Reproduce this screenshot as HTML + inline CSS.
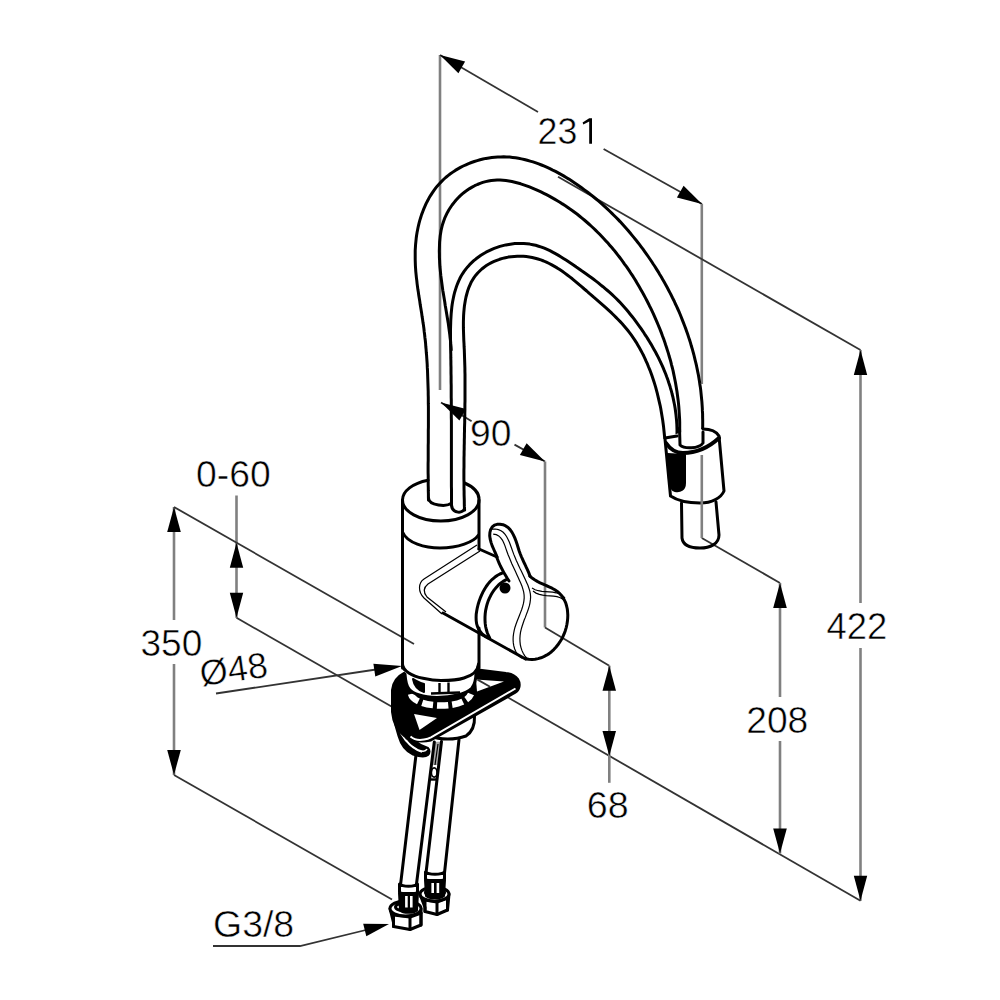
<!DOCTYPE html>
<html><head><meta charset="utf-8"><style>
html,body{margin:0;padding:0;background:#fff;overflow:hidden;}
svg{display:block;}
text{font-family:"Liberation Sans",sans-serif;font-size:36px;fill:#000;stroke:#fff;stroke-width:0.5;}
.dk{stroke:#333;stroke-width:1.8;fill:none;}
.dg{stroke:#808080;stroke-width:2.6;fill:none;}
.ar{fill:#000;stroke:none;}
.th{stroke:#000;stroke-width:3;fill:none;stroke-linecap:round;stroke-linejoin:round;}
.thw{stroke:#000;stroke-width:3;fill:#fff;stroke-linecap:round;stroke-linejoin:round;}
.thk{stroke:#000;stroke-width:4;fill:none;stroke-linecap:round;}
.tn{stroke:#000;stroke-width:1.2;fill:none;}
.fill{fill:#000;stroke:#000;stroke-width:2;stroke-linejoin:round;}
.wfill{fill:#fff;stroke:none;}
.gfill{fill:#aaa;stroke:none;}
.wst{stroke:#fff;stroke-width:2;fill:none;}
.wth{stroke:#fff;stroke-width:4;fill:none;stroke-dasharray:8 4;}
.wst2{stroke:#fff;stroke-width:1.6;fill:none;}
.wdash{stroke:#fff;stroke-width:6.5;fill:none;stroke-dasharray:11 4;}
.th2{stroke:#000;stroke-width:2.4;fill:none;}
</style></head><body>
<svg width="1000" height="1000" viewBox="0 0 1000 1000">
<rect width="1000" height="1000" fill="#fff"/>
<line class="dg" x1="440" y1="55" x2="440" y2="390"/>
<line class="dk" x1="440" y1="55" x2="538" y2="112"/>
<line class="dk" x1="603.6" y1="149" x2="702" y2="204"/>
<path class="ar" d="M440,55 L458.4,73.2 L465.1,61.5 Z"/>
<path class="ar" d="M702,204 L683.6,185.8 L676.9,197.5 Z"/>
<line class="dg" x1="701.8" y1="204" x2="701.8" y2="384"/>
<line class="dk" x1="558" y1="176.8" x2="860.5" y2="350"/>
<line class="dg" x1="860.5" y1="350" x2="860.5" y2="603"/>
<line class="dg" x1="860.5" y1="648" x2="860.5" y2="900.8"/>
<path class="ar" d="M860.5,350 L853.8,375 L867.2,375 Z"/>
<path class="ar" d="M860.5,900.8 L867.2,875.8 L853.8,875.8 Z"/>
<line class="dk" x1="505" y1="695.7" x2="860.5" y2="900.8"/>
<line class="dk" x1="701.8" y1="538" x2="780" y2="583"/>
<line class="dg" x1="780" y1="583" x2="780" y2="697"/>
<line class="dg" x1="780" y1="741" x2="780" y2="853.6"/>
<path class="ar" d="M780,583 L773.2,608 L786.8,608 Z"/>
<path class="ar" d="M780,853.6 L786.8,828.6 L773.2,828.6 Z"/>
<line class="dk" x1="441" y1="402.4" x2="471.6" y2="421.2"/>
<line class="dk" x1="514.5" y1="444.6" x2="545" y2="461.5"/>
<path class="ar" d="M441,402.4 L459.4,420.6 L466.1,408.9 Z"/>
<path class="ar" d="M545,461.5 L526.6,443.3 L519.9,455 Z"/>
<line class="dg" x1="545" y1="461.5" x2="545" y2="627.5"/>
<line class="dk" x1="545" y1="627.5" x2="609.3" y2="665.7"/>
<line class="dg" x1="609.3" y1="665.7" x2="609.3" y2="782.8"/>
<path class="ar" d="M609.3,665.7 L602.5,690.7 L616,690.7 Z"/>
<path class="ar" d="M609.3,756 L616,731 L602.5,731 Z"/>
<line class="dg" x1="236.5" y1="495.5" x2="236.5" y2="617.8"/>
<path class="ar" d="M236.5,542.8 L229.8,567.8 L243.2,567.8 Z"/>
<path class="ar" d="M236.5,617.8 L243.2,592.8 L229.8,592.8 Z"/>
<line class="dk" x1="236.5" y1="617.8" x2="391.5" y2="706.5"/>
<line class="dg" x1="174" y1="507" x2="174" y2="620"/>
<line class="dg" x1="174" y1="664" x2="174" y2="775"/>
<path class="ar" d="M174,507 L167.2,532 L180.8,532 Z"/>
<path class="ar" d="M174,775 L180.8,750 L167.2,750 Z"/>
<line class="dk" x1="174" y1="507" x2="414" y2="644"/>
<line class="dk" x1="174" y1="775" x2="392" y2="899.5"/>
<line class="dk" x1="216" y1="693.5" x2="376" y2="669.5"/>
<path class="ar" d="M402,666 L373.4,663.7 L375.3,676.5 Z"/>
<polyline class="dk" points="213,946 300,946 370,929"/>
<path class="ar" d="M389,924 L363.2,923.7 L366.3,936.3 Z"/>
<path class="th" d="M428.5,500.1 L428.4,497.0 L428.4,494.0 L428.3,490.9 L428.3,487.9 L428.2,484.9 L428.2,481.8 L428.2,478.8 L428.2,475.7 L428.1,472.7 L428.1,469.7 L428.1,466.7 L428.1,463.6 L428.2,460.6 L428.2,457.6 L428.2,454.6 L428.2,451.5 L428.2,448.5 L428.2,445.5 L428.3,442.5 L428.3,439.5 L428.3,436.4 L428.3,433.4 L428.3,430.4 L428.4,427.4 L428.4,424.4 L428.4,421.4 L428.4,418.4 L428.4,415.4 L428.4,412.4 L428.4,409.4 L428.4,406.4 L428.3,403.4 L428.3,400.4 L428.3,397.4 L428.2,394.4 L428.2,391.4 L428.1,388.4 L428.0,385.4 L427.9,382.4 L427.8,379.4 L427.7,376.4 L427.6,373.4 L427.5,370.4 L427.3,367.4 L427.2,364.4 L427.0,361.4 L426.8,358.5 L426.6,355.5 L426.3,352.5 L426.1,349.5 L425.8,346.5 L425.6,343.5 L425.3,340.5 L424.9,337.5 L424.6,334.5 L424.2,331.5 L423.9,328.5 L423.5,325.6 L423.0,322.6 L422.6,319.6 L422.1,316.6 L421.7,313.6 L421.2,310.6 L420.7,307.6 L420.2,304.6 L419.8,301.6 L419.3,298.6 L418.8,295.6 L418.4,292.6 L417.9,289.6 L417.5,286.6 L417.1,283.6 L416.8,280.6 L416.4,277.6 L416.1,274.6 L415.8,271.6 L415.6,268.6 L415.4,265.6 L415.3,262.6 L415.2,259.5 L415.2,256.5 L415.2,253.5 L415.2,250.5 L415.4,247.4 L415.6,244.4 L415.9,241.4 L416.2,238.3 L416.6,235.3 L417.1,232.3 L417.7,229.3 L418.3,226.3 L419.0,223.3 L419.8,220.4 L420.7,217.5 L421.6,214.6 L422.7,211.7 L423.8,208.9 L425.0,206.2 L426.2,203.4 L427.6,200.7 L429.0,198.1 L430.5,195.6 L432.1,193.1 L433.8,190.6 L435.6,188.2 L437.4,185.9 L439.4,183.7 L441.4,181.6 L443.5,179.5 L445.7,177.5 L448.0,175.6 L450.4,173.8 L452.8,172.1 L455.3,170.4 L457.9,168.9 L460.5,167.4 L463.2,166.0 L465.9,164.8 L468.6,163.6 L471.4,162.5 L474.3,161.5 L477.2,160.6 L480.1,159.7 L483.0,159.0 L485.9,158.4 L488.9,157.9 L491.8,157.5 L494.8,157.2 L497.8,157.0 L500.8,156.9 L503.7,156.8 L506.7,156.9 L509.7,157.1 L512.6,157.4 L515.6,157.8 L518.5,158.3 L521.4,158.9 L524.3,159.5 L527.2,160.3 L530.1,161.1 L533.0,161.9 L535.9,162.9 L538.7,163.9 L541.5,165.0 L544.4,166.2 L547.2,167.4 L549.9,168.7 L552.7,170.1 L555.5,171.4 L558.2,172.9 L560.9,174.4 L563.6,175.9 L566.2,177.5 L568.9,179.1 L571.5,180.8 L574.0,182.5 L576.6,184.2 L579.1,186.0 L581.6,187.8 L584.1,189.6 L586.6,191.4 L589.0,193.3 L591.4,195.1 L593.7,197.0 L596.1,199.0 L598.4,200.9 L600.7,202.9 L602.9,204.9 L605.1,206.9 L607.3,208.9 L609.5,211.0 L611.7,213.1 L613.8,215.2 L615.9,217.3 L618.0,219.4 L620.1,221.6 L622.1,223.8 L624.1,226.0 L626.1,228.2 L628.1,230.5 L630.0,232.8 L631.9,235.1 L633.8,237.4 L635.7,239.7 L637.5,242.0 L639.4,244.4 L641.2,246.8 L643.0,249.2 L644.7,251.6 L646.5,254.1 L648.2,256.5 L649.9,259.0 L651.6,261.5 L653.2,264.0 L654.9,266.5 L656.5,269.1 L658.1,271.6 L659.6,274.2 L661.2,276.8 L662.7,279.4 L664.2,282.0 L665.7,284.7 L667.1,287.3 L668.5,290.0 L669.9,292.6 L671.3,295.3 L672.6,298.0 L674.0,300.7 L675.2,303.5 L676.5,306.2 L677.8,309.0 L679.0,311.7 L680.2,314.5 L681.3,317.3 L682.4,320.1 L683.5,322.9 L684.6,325.7 L685.7,328.6 L686.7,331.4 L687.7,334.3 L688.6,337.1 L689.6,340.0 L690.5,342.9 L691.3,345.8 L692.2,348.7 L693.0,351.6 L693.8,354.5 L694.5,357.4 L695.2,360.3 L695.9,363.2 L696.6,366.2 L697.2,369.1 L697.8,372.1 L698.4,375.0 L698.9,378.0 L699.4,381.0 L699.8,383.9 L700.3,386.9 L700.7,389.9 L701.0,392.9 L701.3,395.9 L701.6,398.9 L701.9,401.9 L702.1,404.9 L702.3,407.9 L702.4,410.9 L702.6,413.9 L702.6,416.9 L702.7,419.9 L702.7,422.9 L702.7,426.0 L702.6,429.0 L702.5,432.0"/>
<path class="th" d="M451.2,350.0 L451.0,346.9 L450.7,343.9 L450.5,340.9 L450.1,337.9 L449.8,334.9 L449.4,331.9 L449.0,328.9 L448.6,325.9 L448.2,322.9 L447.7,320.0 L447.2,317.0 L446.7,314.0 L446.2,311.1 L445.7,308.1 L445.2,305.2 L444.8,302.2 L444.3,299.3 L443.8,296.3 L443.3,293.3 L442.8,290.4 L442.4,287.4 L442.0,284.4 L441.6,281.5 L441.2,278.5 L440.8,275.5 L440.5,272.5 L440.2,269.5 L439.9,266.5 L439.7,263.4 L439.6,260.4 L439.4,257.4 L439.4,254.3 L439.3,251.2 L439.4,248.1 L439.5,245.0 L439.6,242.0 L439.9,238.9 L440.2,235.8 L440.7,232.8 L441.2,229.8 L441.9,226.8 L442.7,223.9 L443.7,221.0 L444.7,218.2 L446.0,215.4 L447.3,212.7 L448.8,210.0 L450.4,207.5 L452.1,205.0 L454.0,202.6 L455.9,200.3 L458.0,198.0 L460.1,195.9 L462.3,193.9 L464.7,192.0 L467.1,190.3 L469.6,188.6 L472.1,187.1 L474.7,185.7 L477.4,184.5 L480.1,183.4 L482.8,182.4 L485.6,181.6 L488.5,181.0 L491.3,180.5 L494.2,180.3 L497.1,180.1 L500.1,180.1 L503.0,180.3 L505.9,180.6 L508.9,181.0 L511.9,181.5 L514.8,182.2 L517.8,183.0 L520.7,183.8 L523.7,184.8 L526.6,185.8 L529.5,186.9 L532.4,188.1 L535.3,189.3 L538.2,190.6 L541.0,191.9 L543.8,193.3 L546.5,194.7 L549.3,196.1 L551.9,197.6 L554.6,199.1 L557.3,200.7 L559.9,202.2 L562.4,203.9 L565.0,205.5 L567.5,207.2 L570.0,209.0 L572.5,210.7 L574.9,212.5 L577.3,214.3 L579.7,216.2 L582.0,218.1 L584.3,220.0 L586.6,222.0 L588.9,224.0 L591.1,226.0 L593.3,228.0 L595.5,230.1 L597.6,232.2 L599.7,234.3 L601.8,236.5 L603.9,238.7 L605.9,240.9 L607.9,243.1 L609.9,245.4 L611.8,247.6 L613.8,249.9 L615.7,252.3 L617.5,254.6 L619.4,257.0 L621.2,259.4 L623.0,261.8 L624.7,264.3 L626.5,266.7 L628.2,269.2 L629.9,271.7 L631.5,274.2 L633.2,276.7 L634.8,279.3 L636.4,281.9 L637.9,284.5 L639.4,287.1 L640.9,289.7 L642.4,292.3 L643.9,295.0 L645.3,297.6 L646.7,300.3 L648.1,303.0 L649.4,305.7 L650.8,308.4 L652.1,311.2 L653.4,313.9 L654.6,316.7 L655.8,319.4 L657.0,322.2 L658.2,325.0 L659.4,327.8 L660.5,330.6 L661.6,333.4 L662.6,336.3 L663.7,339.1 L664.7,341.9 L665.6,344.8 L666.6,347.7 L667.5,350.6 L668.4,353.4 L669.2,356.3 L670.1,359.2 L670.9,362.2 L671.6,365.1 L672.4,368.0 L673.1,370.9 L673.7,373.9 L674.3,376.8 L674.9,379.8 L675.5,382.8 L676.0,385.7 L676.5,388.7 L677.0,391.7 L677.4,394.7 L677.8,397.7 L678.2,400.7 L678.5,403.7 L678.8,406.7 L679.0,409.7 L679.2,412.7 L679.4,415.8 L679.6,418.8 L679.7,421.8 L679.7,424.8 L679.7,427.9 L679.7,430.9 L679.7,434.0 L679.6,437.0 L679.4,440.1"/>
<path class="th" d="M451.5,505.2 L451.5,501.9 L451.5,498.7 L451.5,495.6 L451.5,492.4 L451.5,489.3 L451.4,486.2 L451.4,483.1 L451.4,480.0 L451.4,476.9 L451.4,473.9 L451.4,470.8 L451.4,467.8 L451.4,464.8 L451.4,461.8 L451.4,458.8 L451.4,455.8 L451.4,452.9 L451.4,449.9 L451.4,446.9 L451.4,444.0 L451.4,441.1 L451.4,438.1 L451.4,435.2 L451.4,432.3 L451.4,429.3 L451.4,426.4 L451.4,423.5 L451.4,420.6 L451.3,417.6 L451.3,414.7 L451.3,411.8 L451.3,408.9 L451.3,405.9 L451.3,403.0 L451.3,400.1 L451.2,397.1 L451.2,394.2 L451.2,391.2 L451.2,388.2 L451.2,385.3 L451.1,382.3 L451.1,379.3 L451.1,376.3 L451.0,373.2 L451.0,370.2 L451.0,367.1 L450.9,364.1 L450.9,361.0 L450.8,357.9 L450.8,354.8 L450.7,351.7 L450.7,348.5 L450.6,345.3 L450.6,342.1 L450.5,339.0 L450.5,335.8 L450.5,332.6 L450.5,329.4 L450.6,326.2 L450.7,323.0 L450.8,319.8 L451.0,316.7 L451.2,313.5 L451.5,310.4 L451.8,307.3 L452.2,304.3 L452.7,301.3 L453.3,298.3 L453.9,295.4 L454.6,292.5 L455.5,289.6 L456.4,286.8 L457.4,284.1 L458.5,281.4 L459.7,278.8 L461.0,276.3 L462.5,273.8 L464.1,271.4 L465.8,269.1 L467.6,266.9 L469.6,264.7 L471.7,262.7 L473.8,260.7 L476.1,258.8 L478.5,257.0 L480.9,255.3 L483.4,253.7 L486.0,252.2 L488.7,250.9 L491.4,249.6 L494.2,248.4 L497.1,247.4 L499.9,246.4 L502.9,245.6 L505.8,244.9 L508.8,244.4 L511.8,243.9 L514.8,243.6 L517.8,243.4 L520.8,243.4 L523.8,243.5 L526.8,243.7 L529.8,244.1 L532.8,244.7 L535.7,245.3 L538.6,246.2 L541.5,247.1 L544.3,248.2 L547.1,249.4 L549.9,250.7 L552.6,252.1 L555.4,253.6 L558.1,255.1 L560.7,256.7 L563.4,258.4 L566.0,260.1 L568.6,261.8 L571.2,263.5 L573.8,265.2 L576.3,267.0 L578.8,268.7 L581.3,270.5 L583.8,272.2 L586.3,274.0 L588.7,275.7 L591.2,277.5 L593.6,279.3 L596.0,281.1 L598.3,282.9 L600.6,284.8 L603.0,286.7 L605.2,288.6 L607.5,290.5 L609.7,292.4 L611.9,294.4 L614.1,296.5 L616.2,298.5 L618.3,300.6 L620.4,302.8 L622.4,305.0 L624.4,307.2 L626.4,309.5 L628.3,311.8 L630.2,314.2 L632.1,316.5 L634.0,318.9 L635.8,321.4 L637.6,323.8 L639.4,326.3 L641.1,328.7 L642.9,331.3 L644.5,333.8 L646.2,336.3 L647.8,338.9 L649.4,341.5 L651.0,344.1 L652.5,346.7 L654.0,349.4 L655.5,352.0 L656.9,354.7 L658.3,357.4 L659.6,360.1 L660.9,362.9 L662.2,365.6 L663.4,368.4 L664.5,371.2 L665.7,374.0 L666.7,376.8 L667.8,379.6 L668.7,382.5 L669.7,385.4 L670.5,388.2 L671.4,391.1 L672.1,394.0 L672.9,397.0 L673.5,399.9 L674.1,402.8 L674.7,405.8 L675.2,408.8 L675.6,411.8 L676.0,414.8 L676.3,417.8 L676.6,420.8 L676.8,423.8 L676.9,426.8 L677.0,429.9 L677.0,433.0 L676.9,436.0"/>
<path class="th" d="M464.6,510.1 L464.4,506.9 L464.3,503.8 L464.3,500.7 L464.2,497.6 L464.1,494.5 L464.1,491.4 L464.0,488.3 L464.0,485.3 L464.0,482.2 L463.9,479.2 L463.9,476.1 L463.9,473.1 L463.9,470.1 L464.0,467.1 L464.0,464.0 L464.0,461.0 L464.0,458.0 L464.1,455.0 L464.1,452.0 L464.2,449.0 L464.2,446.1 L464.3,443.1 L464.3,440.1 L464.4,437.1 L464.4,434.1 L464.5,431.2 L464.5,428.2 L464.6,425.2 L464.7,422.2 L464.7,419.3 L464.8,416.3 L464.8,413.3 L464.9,410.3 L464.9,407.3 L464.9,404.4 L465.0,401.4 L465.0,398.4 L465.0,395.4 L465.0,392.4 L465.0,389.4 L465.0,386.4 L465.0,383.4 L465.0,380.4 L465.0,377.3 L465.0,374.3 L464.9,371.3 L464.9,368.2 L464.8,365.2 L464.7,362.1 L464.6,359.0 L464.5,356.0 L464.4,352.9 L464.3,349.8 L464.1,346.7 L464.0,343.5 L463.8,340.4 L463.7,337.3 L463.6,334.2 L463.5,331.0 L463.4,327.9 L463.4,324.8 L463.4,321.7 L463.5,318.5 L463.6,315.4 L463.8,312.3 L464.1,309.2 L464.4,306.1 L464.9,303.1 L465.4,300.0 L466.0,297.0 L466.8,294.0 L467.6,291.1 L468.6,288.2 L469.8,285.4 L471.0,282.6 L472.5,280.0 L474.0,277.6 L475.8,275.2 L477.7,273.0 L479.7,271.0 L481.8,269.0 L484.1,267.2 L486.4,265.6 L488.9,264.0 L491.5,262.6 L494.1,261.4 L496.8,260.3 L499.6,259.3 L502.5,258.4 L505.4,257.7 L508.3,257.1 L511.3,256.7 L514.3,256.4 L517.3,256.2 L520.3,256.2 L523.3,256.3 L526.3,256.6 L529.3,257.0 L532.2,257.5 L535.2,258.2 L538.0,259.0 L540.9,259.9 L543.7,261.0 L546.4,262.2 L549.2,263.5 L551.8,264.9 L554.5,266.4 L557.1,267.9 L559.7,269.6 L562.3,271.3 L564.8,273.1 L567.3,275.0 L569.8,276.9 L572.3,278.8 L574.7,280.8 L577.1,282.8 L579.5,284.9 L581.9,286.9 L584.3,289.0 L586.7,291.0 L589.0,293.1 L591.4,295.1 L593.7,297.2 L596.0,299.2 L598.3,301.2 L600.6,303.2 L602.9,305.2 L605.2,307.2 L607.4,309.2 L609.6,311.2 L611.8,313.2 L613.9,315.3 L616.0,317.4 L618.1,319.5 L620.2,321.6 L622.2,323.7 L624.1,325.9 L626.0,328.2 L627.9,330.5 L629.7,332.8 L631.4,335.2 L633.1,337.6 L634.8,340.1 L636.4,342.6 L637.9,345.2 L639.4,347.8 L640.9,350.5 L642.3,353.1 L643.7,355.8 L645.0,358.6 L646.2,361.4 L647.5,364.2 L648.6,367.0 L649.8,369.8 L650.9,372.7 L651.9,375.6 L652.9,378.5 L653.9,381.5 L654.8,384.4 L655.7,387.4 L656.5,390.3 L657.3,393.3 L658.0,396.3 L658.7,399.3 L659.4,402.3 L660.1,405.3 L660.7,408.3 L661.2,411.3 L661.7,414.3 L662.2,417.3 L662.7,420.3 L663.1,423.2 L663.5,426.2 L663.8,429.1 L664.1,432.0 L664.4,435.0 L664.7,437.8"/>
<path class="wfill" d="M666,442 L670.5,496 C678,501 690,503 700,503 C712,503 721,498 724,491 L719,436 C716,431 710,429 705,429 C690,429 668,434 666,442Z"/>
<path class="th" d="M665,439 L670.5,496 C678,501 690,503 700,503 C712,503 721,498 724,491 L719,436 C716,431 710,429 703,429"/>
<path class="thk" d="M666,443 C670,449 675,453 683,453 C695,453 707,449 719,438"/>
<path class="th" d="M679.5,428 L680,445 C684,449 699,449 703,443 L703,432"/>
<path class="th" d="M665,438 L677,436"/>
<path class="fill" d="M667.5,454 L685,455 L685,483 C685,490 680,492 675,491 C671,490 669.5,486 669,480 Z"/>
<path class="th" d="M681.5,503 L682,538 C683,546 692,548 700,548 C710,548 719,544 719,535 L716,502"/>
<line class="dg" x1="701.8" y1="455" x2="701.8" y2="538"/>
<path class="th" d="M402.5,668 L402.5,500 A38.25,21 0 0 1 428,480.2"/>
<path class="th" d="M464.5,483 A38.25,21 0 0 1 479,500 L479,549"/>
<path class="th" d="M402.5,500 A38.25,21 0 0 0 479,500"/>
<path class="th" d="M402.5,532 C407,543 425,548 440,548 C458,548 474,542 478.5,535"/>
<path class="th" d="M479,628 L479,668"/>
<path class="th" d="M402.5,666 C405,675 425,680 440,680 C460,680 474,675 478.5,666"/>
<path class="th" d="M428.5,498 C429,506 447,507 451.5,503"/>
<path class="th" d="M451.5,505 C452,514 464,514 464.5,508"/>
<path class="th" d="M479,549 L497,557"/>
<path class="tn" d="M477,545 L424,579 C418,583 418,592 424,598 L442,614"/>
<path class="tn" d="M480,551 L428,584 C423,588 423,592 427,597 L446,612"/>
<path class="th" d="M443,613 L525.5,659"/>
<path class="th" d="M502.7,572.8 L499.9,574.0 L497.2,575.5 L494.7,577.3 L492.3,579.3 L490.1,581.5 L488.1,583.9 L486.2,586.5 L484.5,589.2 L482.9,592.1 L481.5,595.1 L480.2,598.2 L479.1,601.3 L478.1,604.5 L477.3,607.8 L476.7,611.1 L476.2,614.3 L476.1,617.5 L476.2,620.6 L476.6,623.6 L477.4,626.4 L478.6,629.1 L480.2,631.6 L482.2,633.9 L484.8,635.9 L487.9,637.7"/>
<path class="th" d="M505.8,579.9 L503.1,581.4 L500.6,583.2 L498.3,585.2 L496.2,587.5 L494.2,589.9 L492.4,592.5 L490.8,595.3 L489.4,598.2 L488.1,601.1 L487.1,604.2 L486.3,607.4 L485.6,610.6 L485.2,613.8 L485.0,617.0 L485.0,620.2 L485.2,623.4 L485.6,626.5 L486.3,629.5 L487.2,632.5 L488.3,635.3 L489.7,638.0"/>
<path class="th" d="M529.9,576.2 L532.1,578.1 L534.6,579.8 L537.3,581.4 L540.1,582.8 L543.1,584.1 L546.1,585.5 L549.1,586.8 L552.0,588.2 L554.8,589.8 L557.3,591.5 L559.6,593.4 L561.5,595.6 L563.2,598.0 L564.6,600.5 L565.8,603.2 L566.6,606.0 L567.3,609.0 L567.6,612.0 L567.8,615.1 L567.7,618.2 L567.4,621.3 L566.9,624.5 L566.2,627.6 L565.3,630.7 L564.2,633.7 L562.9,636.7 L561.4,639.5 L559.7,642.2 L557.9,644.8 L555.9,647.3 L553.8,649.6 L551.5,651.7 L549.1,653.6 L546.5,655.2 L543.8,656.6 L541.0,657.8 L538.1,658.6 L535.1,659.2 L532.0,659.4 L528.7,659.3 L525.4,658.8"/>
<path class="th" d="M497.0,557.0 L496.1,554.6 L494.9,552.0 L493.6,549.0 L492.2,545.9 L491.1,542.6 L490.2,539.2 L489.7,535.8 L489.9,532.5 L490.7,529.4 L492.2,526.9 L494.4,525.2 L497.1,524.3 L500.0,524.2 L503.0,524.7 L505.7,525.9 L508.1,527.5 L510.1,529.6 L511.9,532.1 L513.4,534.9 L514.8,537.9 L516.0,541.0 L517.1,544.3 L518.1,547.5 L519.1,550.7 L520.2,553.7 L521.3,556.5 L522.5,559.2 L523.7,561.8 L525.0,564.5 L526.2,567.2 L527.5,569.9 L528.8,572.9 L530.0,576.1"/>
<path class="th" d="M497.0,558.0 L498.1,560.7 L499.2,563.3 L500.4,566.0 L501.7,568.5 L503.1,571.1 L504.4,573.6 L505.9,576.1 L507.4,578.6 L509.0,581.0"/>
<path class="tn" d="M492.0,529.1 L495.4,529.0 L498.4,529.6 L501.0,530.7 L503.2,532.3 L505.1,534.4 L506.7,536.7 L508.1,539.4 L509.4,542.3 L510.5,545.3 L511.6,548.3 L512.7,551.4 L513.8,554.4 L515.0,557.3 L516.2,560.2 L517.5,563.0 L518.7,565.7 L520.0,568.5 L521.4,571.2 L522.7,574.0 L524.0,576.8 L525.3,579.6 L526.6,582.4 L527.9,585.3 L528.9,588.2 L529.8,591.2 L530.4,594.1 L530.6,597.0 L530.4,599.9 L530.0,602.8 L529.4,605.7 L528.5,608.6 L527.5,611.5 L526.4,614.4 L525.3,617.4 L524.1,620.3 L523.1,623.3 L522.1,626.3 L521.2,629.3 L520.5,632.3 L520.1,635.4 L519.9,638.5 L520.0,641.6 L520.3,644.6 L521.0,647.6 L521.9,650.4 L523.2,653.2 L524.8,655.8 L526.8,658.2"/>
<path class="tn" d="M493.2,534.1 L496.3,534.6 L498.7,535.9 L500.7,537.8 L502.4,540.1 L503.7,542.7 L504.9,545.6 L505.9,548.6 L507.0,551.7 L508.1,554.7 L509.3,557.6 L510.5,560.5 L511.7,563.4 L513.0,566.2 L514.3,569.0 L515.6,571.8 L516.9,574.7 L518.2,577.5 L519.5,580.4 L520.8,583.3 L522.0,586.2 L522.9,589.2 L523.7,592.1 L524.1,595.0 L524.2,597.9 L523.9,600.8 L523.4,603.7 L522.6,606.6 L521.7,609.5 L520.6,612.4 L519.5,615.3 L518.3,618.3 L517.1,621.2 L516.0,624.2 L515.0,627.2 L514.2,630.3 L513.6,633.5 L513.2,636.6 L513.1,639.8 L513.3,642.9 L513.8,645.9 L514.6,648.7 L515.8,651.5 L517.4,654.0 L519.4,656.3 L521.8,658.3"/>
<path class="tn" d="M532.0,588.0 L535.1,589.7 L538.4,590.7 L541.9,591.3 L545.5,591.6 L549.1,591.9 L552.7,592.2 L556.1,592.8 L559.3,593.8 L562.3,595.5 L565.0,598.0"/>
<path class="tn" d="M533.0,591.0 L536.0,593.1 L539.3,594.4 L542.7,595.1 L546.3,595.6 L549.9,595.8 L553.5,596.1 L557.0,596.7 L560.3,597.7 L563.3,599.4 L566.0,602.0"/>
<circle cx="505" cy="588" r="5.5" fill="#000"/>
<path class="thw" d="M430,736 C440,740 455,740 466,736 C472,732 475,726 474.5,716"/>
<path class="fill" d="M392.5,705 C393,718 396,728 398.5,736 C401,745 405,751 413,754.5 C419,756.5 425,757.5 428,755 C430,753 430,750 428,748 C418,745 410,738 405,728 C401,718 399,708 399,700 Z"/>
<path class="wst2" d="M398,726 C401,736 408,745 418,750 C423,752 426,751 427,749"/>
<path class="wst2" d="M406,740 C410,746 416,750 422,752"/>
<path class="fill" d="M404,673 C398,676 393,682 392,690 L392,712 C393,722 397,731 404,736 C411,741 420,743 431,740.5 L515,693 C520,690 521,684 518,679 C515,675 511,673.5 506,673 L478,669.5 L470,672 Z"/>
<path class="wfill" d="M414,714 L437,718 L419.5,730 Z"/>
<path class="wfill" d="M476,679.5 L504,681.5 L477,691.5 Z"/>
<line class="dk" x1="477.5" y1="679.6" x2="490" y2="686.8"/>
<path class="wst" d="M410.5,736.5 C414,739.5 419,740.5 424,739.5 C427,739 429,738.3 431,737.3 L515.5,688.5"/>
<path class="wdash" d="M411,694 C413,701.5 426,705.5 441,705.5 C456,705.5 468,701.5 471,694"/>
<path class="wfill" d="M404.2,660 L405,674 C405.5,681 406,685 409,689 C413,694 424,697 437,697.5 C452,697.5 466,694 472,688 C475,684 476,679 476,672 L477,660 Z"/>
<path class="th" d="M405,674 C405.5,681 406,685 409,689 C413,694 424,697 437,697.5 C452,697.5 466,694 472,688 C475,684 476,679 476,672"/>
<path class="fill" d="M413,679 C414,685 418,690 424,692 L424,684 C420,683 417,681 413,679Z"/>
<line class="th2" x1="439.5" y1="683" x2="439.5" y2="693"/>
<line class="th2" x1="448.5" y1="682.5" x2="448.5" y2="692.5"/>
<path class="th2" d="M431,693.5 L460,692.5"/>
<path class="th" d="M402.5,664 C403,671 412,676 423,678.3 C430,679.8 436,680.5 441,680.5 C450,680.5 458,680 464,678 C472,675.5 478,671 478.5,664"/>
<path class="gfill" d="M434.3,742 L441.5,741.5 L438.8,765 L431.5,765 Z"/>
<path class="tn" d="M438,744 L435,765"/>
<ellipse cx="434.2" cy="772.5" rx="2.8" ry="4.6" fill="#fff" stroke="#000" stroke-width="1.6"/>
<line class="th2" x1="429.5" y1="779.5" x2="437" y2="779.5"/>
<line class="th" x1="415.8" y1="756.5" x2="400.5" y2="885"/>
<line class="th" x1="434.3" y1="742" x2="416.5" y2="884"/>
<line class="th" x1="441.5" y1="741.5" x2="426" y2="873"/>
<line class="th" x1="459" y1="739.5" x2="444.5" y2="873"/>
<path class="thw" d="M425.5,872 L425.5,879 C428.5,882 441.5,882 444.5,879 L444.5,872 C441.5,875 428.5,875 425.5,872 Z"/>
<path class="thw" d="M420,894 L425,907.5 L425,911.5 L437,914.5 L447.5,910 L449,894 Z"/>
<path class="th" d="M421,897 L425,900 L437,902 L447.5,898"/>
<line class="th" x1="425" y1="900" x2="425" y2="911.5"/>
<line class="th" x1="437" y1="902" x2="437" y2="914.5"/>
<line class="th" x1="447.5" y1="898" x2="447.5" y2="910"/>
<ellipse class="thw" cx="434.5" cy="894" rx="14.5" ry="7"/>
<ellipse class="th" cx="435" cy="892.5" rx="9.5" ry="3.5"/>
<path class="fill" d="M425,880 L426,896 C429,899 441,899 444,896 L445,880 Z"/>
<rect class="wfill" x="431.4" y="883" width="2.6" height="10"/>
<rect class="wfill" x="436.6" y="883" width="2.6" height="10"/>
<path class="thw" d="M399.5,884 L399.5,892 C402.5,895 414.5,895 417.5,892 L417.5,884 C414.5,887 402.5,887 399.5,884 Z"/>
<path class="thw" d="M390,908.5 L393.5,922.5 L393.5,926.5 L410,929.5 L421,925 L421,908.5 Z"/>
<path class="th" d="M391,911.5 L393.5,915 L410,917 L421,913"/>
<line class="th" x1="393.5" y1="915" x2="393.5" y2="926.5"/>
<line class="th" x1="410" y1="917" x2="410" y2="929.5"/>
<line class="th" x1="421" y1="913" x2="421" y2="925"/>
<ellipse class="thw" cx="405.5" cy="908.5" rx="15.5" ry="7.5"/>
<ellipse class="th" cx="406" cy="907" rx="10.5" ry="4"/>
<path class="fill" d="M399,893 L400,910.5 C403,913.5 414,913.5 417,910.5 L418,893 Z"/>
<rect class="wfill" x="405.1" y="896" width="2.6" height="11.5"/>
<rect class="wfill" x="410" y="896" width="2.6" height="11.5"/>
<text x="537.6" y="143.8" textLength="39.8" lengthAdjust="spacingAndGlyphs">23</text>
<path d="M589.2,118.3 L592,118.3 L592,143.8 L589.2,143.8 L589.2,121.6 L583.3,124.6 L582.6,122.5 Z" fill="#000"/>
<text x="470" y="446" textLength="41.4" lengthAdjust="spacingAndGlyphs">90</text>
<text x="196" y="487.2" textLength="74.7" lengthAdjust="spacingAndGlyphs">0-60</text>
<text x="140.5" y="656" textLength="61.8" lengthAdjust="spacingAndGlyphs">350</text>
<text x="199.5" y="681.6" textLength="68.2" lengthAdjust="spacingAndGlyphs" transform="rotate(-8 233.8 669.8)">&#216;48</text>
<text x="826.5" y="639.3" textLength="60.7" lengthAdjust="spacingAndGlyphs">422</text>
<text x="746.2" y="732.8" textLength="62.1" lengthAdjust="spacingAndGlyphs">208</text>
<text x="586.8" y="818.4" textLength="41.9" lengthAdjust="spacingAndGlyphs">68</text>
<text x="213" y="937" textLength="81.2" lengthAdjust="spacingAndGlyphs">G3/8</text>
</svg></body></html>
